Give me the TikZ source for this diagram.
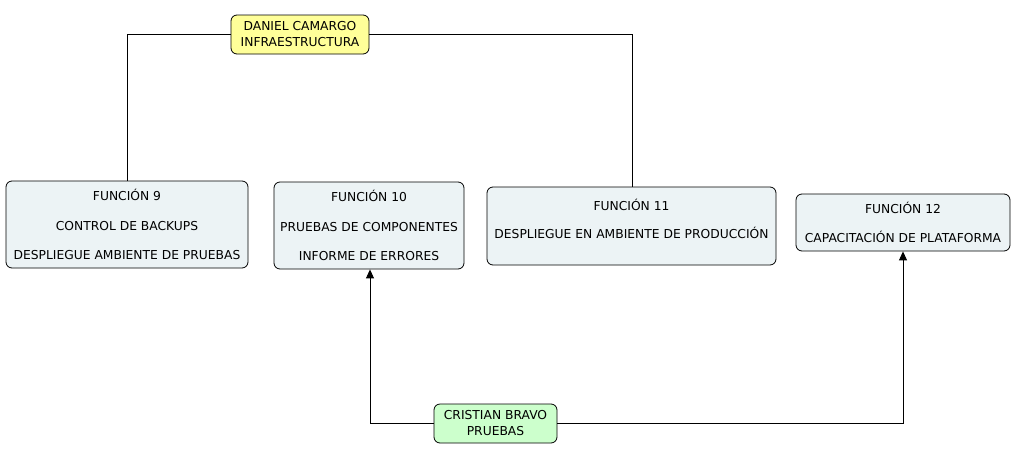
\documentclass[tikz,border=0pt]{standalone}
\usepackage{fontspec}
\setmainfont{DejaVu Sans}
\usepackage{tikz}
\usetikzlibrary{shapes, arrows.meta, positioning, calc}
\definecolor{funcfill}{RGB}{236, 243, 245}
\definecolor{leadyellow}{RGB}{255, 255, 153}
\definecolor{leadgreen}{RGB}{204, 255, 204}

\begin{document}
\begin{tikzpicture}[x=1pt, y=-1pt,
    funcbox/.style={draw, line width=0.8pt, fill=funcfill, rounded corners=6pt, align=center, inner sep=0pt, font=\fontsize{12.3}{15}\selectfont},
    leadbox/.style={draw, line width=0.8pt, rounded corners=6pt, align=center, inner sep=0pt, font=\fontsize{12.3}{16}\selectfont, minimum height=39pt},
    link/.style={line width=0.9pt},
    arrowlink/.style={link, -{Triangle[length=9pt, width=8pt]}}]
  \useasboundingbox (0,0) rectangle (1029,464);
  % leaders
  \node[leadbox, fill=leadyellow, minimum width=138pt] (camargo) at (300,34.5) {DANIEL CAMARGO\\INFRAESTRUCTURA};
  \node[leadbox, fill=leadgreen, minimum width=123pt] (bravo) at (495.5,423.5) {CRISTIAN BRAVO\\PRUEBAS};
  % functions
  \node[funcbox, minimum width=242pt, minimum height=87pt] (f9) at (127,224.5) {
    FUNCIÓN 9\\[14.5pt]
    CONTROL DE BACKUPS\\[14.5pt]
    DESPLIEGUE AMBIENTE DE PRUEBAS
  };
  \node[funcbox, minimum width=190pt, minimum height=87pt] (f10) at (369,225.5) {
    FUNCIÓN 10\\[14.5pt]
    PRUEBAS DE COMPONENTES\\[14.5pt]
    INFORME DE ERRORES
  };
  \node[funcbox, minimum width=289pt, minimum height=78pt] (f11) at (631.5,226) {
    FUNCIÓN 11\\[13pt]
    DESPLIEGUE EN AMBIENTE DE PRODUCCIÓN\\[-1pt]\mbox{}
  };
  \node[funcbox, minimum width=214pt, minimum height=57pt] (f12) at (903,222.5) {
    FUNCIÓN 12\\[14pt]
    CAPACITACIÓN DE PLATAFORMA
  };
  % connectors
  \draw[link] (camargo.west) -| (f9.north -| 127,0);
  \draw[link] (camargo.east) -| ($(f11.north)+(0.5,0)$);
  \draw[arrowlink] (bravo.west) -| ($(f10.south)+(1,0)$);
  \draw[arrowlink] (bravo.east) -| (f12.south);
\end{tikzpicture}
\end{document}
